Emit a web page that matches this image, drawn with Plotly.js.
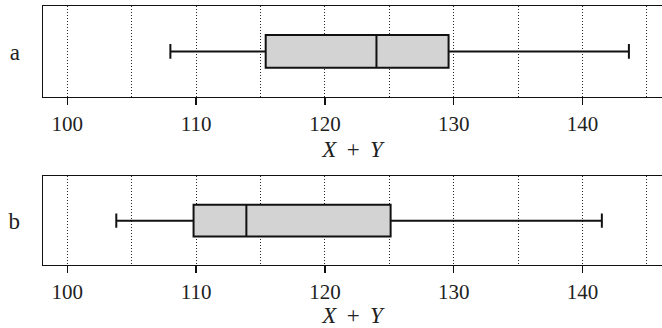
<!DOCTYPE html>
<html><head><meta charset="utf-8">
<script src="https://cdn.plot.ly/plotly-3.0.1.min.js"></script>
<style>html,body{margin:0;padding:0;background:#fff}#c{width:662px;height:328px}</style>
</head><body><div id="c"></div>
<script>
const groups = ['a', 'b'];
const lowerWhisker = [108.0, 103.8];
const q1Values = [115.4, 109.8];
const medians = [124.0, 113.9];
const q3Values = [129.6, 125.1];
const upperWhisker = [143.6, 141.5];
const xTicks = [100, 110, 120, 130, 140];

const font = 'Liberation Serif, serif';
const traces = groups.map((g, i) => ({
  type: 'box', orientation: 'h',
  y: [g], q1: [q1Values[i]], median: [medians[i]], q3: [q3Values[i]],
  lowerfence: [lowerWhisker[i]], upperfence: [upperWhisker[i]],
  xaxis: i === 0 ? 'x' : 'x2', yaxis: i === 0 ? 'y' : 'y2',
  fillcolor: '#d3d3d3', line: {color: '#111', width: 2},
  width: 0.36, whiskerwidth: 0.45, boxpoints: false, hoverinfo: 'skip', showlegend: false
}));

function xax(){
  return {
    range: [98.11, 146.17], tickvals: xTicks, ticks: 'outside', ticklen: 7, tickcolor: '#111', tickwidth: 1.3,
    showline: true, linecolor: '#111', linewidth: 1.4, mirror: true,
    showgrid: true, gridcolor: '#222', griddash: '1px,2px', gridwidth: 1,
    minor: {dtick: 5, tick0: 100, showgrid: true, gridcolor: '#222', griddash: '1px,2px', gridwidth: 1, ticks: ''},
    zeroline: false, automargin: false,
    tickfont: {family: font, size: 21, color: '#222'},
    title: {text: '<i>X</i> \u2009+\u2009 <i>Y</i>', font: {family: font, size: 23, color: '#222'}, standoff: 6}
  };
}
function yax(dom){
  return {
    domain: dom, type: 'category', range: [-0.5, 0.5], showline: true, linecolor: '#111', linewidth: 1.4,
    showgrid: false, zeroline: false, ticks: '', ticklabelstandoff: 17, automargin: false,
    tickfont: {family: font, size: 23, color: '#222'}, fixedrange: true
  };
}
const layout = {
  width: 662, height: 328, margin: {l: 43, r: 0, t: 0, b: 0},
  paper_bgcolor: '#fff', plot_bgcolor: '#fff',
  xaxis: Object.assign(xax(), {anchor: 'y'}),
  yaxis: Object.assign(yax([0.7043, 0.9817]), {anchor: 'x'}),
  xaxis2: Object.assign(xax(), {anchor: 'y2'}),
  yaxis2: Object.assign(yax([0.1921, 0.4625]), {anchor: 'x2'})
};
Plotly.newPlot('c', traces, layout, {staticPlot: true});
</script></body></html>
